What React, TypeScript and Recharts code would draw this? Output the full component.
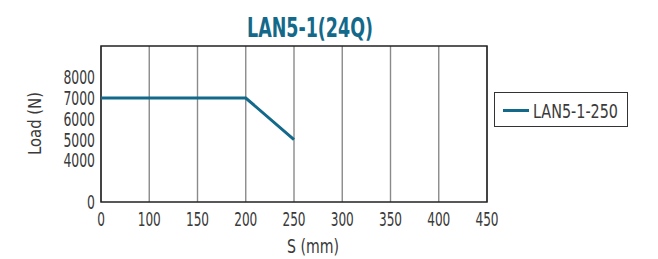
// LAN5-1(24Q) load vs stroke chart

import { LineChart, Line, XAxis, YAxis, CartesianGrid, Legend, ReferenceArea } from 'recharts'

const X_TICKS = [0, 100, 150, 200, 250, 300, 350, 400, 450]
const Y_TICKS = [0, 4000, 5000, 6000, 7000, 8000]
// axis slot of each y tick: the 0–4000 span is squeezed into two slots
const Y_TICK_SLOTS = [0, 2, 3, 4, 5, 6]
const Y_TOP_SLOT = 7.5

const SERIES_NAME = 'LAN5-1-250'
const STROKE_MM = [0, 200, 250]
const LOAD_N = [7000, 7000, 5000]

const FONT = "'Liberation Sans Narrow', 'DejaVu Sans Condensed', sans-serif"
const BLUE = '#13698a'
const INK = '#3a3a3a'

const X_SLOTS = X_TICKS.map((_, i) => i)

// piecewise-linear map from value to axis slot, defined by the tick table
function toSlot(v: number, ticks: number[], slots: number[]) {
  for (let i = 1; i < ticks.length; i++) {
    if (v <= ticks[i]) {
      const t = (v - ticks[i - 1]) / (ticks[i] - ticks[i - 1])
      return slots[i - 1] + t * (slots[i] - slots[i - 1])
    }
  }
  return slots[slots.length - 1]
}

const data = STROKE_MM.map((s, i) => ({
  x: toSlot(s, X_TICKS, X_SLOTS),
  y: toSlot(LOAD_N[i], Y_TICKS, Y_TICK_SLOTS),
}))

function XTick(props: any) {
  const { x, y, payload } = props
  const label = String(X_TICKS[payload.value] ?? '')
  return (
    <text x={x} y={y + 16} textAnchor="middle" fontSize={20} fontFamily={FONT} fill={INK}
          textLength={label.length * 7.7} lengthAdjust="spacingAndGlyphs">{label}</text>
  )
}

function YTick(props: any) {
  const { x, y, payload } = props
  const idx = Y_TICK_SLOTS.indexOf(payload.value)
  const label = String(Y_TICKS[idx] ?? '')
  return (
    <text x={x} y={y + 7} textAnchor="end" fontSize={20} fontFamily={FONT} fill={INK}
          textLength={label.length * 7.9} lengthAdjust="spacingAndGlyphs">{label}</text>
  )
}

function LegendBox() {
  return (
    <svg width={134} height={35} style={{ display: 'block' }}>
      <rect x={0.5} y={0.5} width={133} height={34} fill="#fff" stroke="#333" strokeWidth={1} />
      <line x1={9} x2={35} y1={18.5} y2={18.5} stroke={BLUE} strokeWidth={3} />
      <text x={39} y={26} fontSize={20} fontFamily={FONT} fill={INK}
            textLength={85} lengthAdjust="spacingAndGlyphs">{SERIES_NAME}</text>
    </svg>
  )
}

export default function App() {
  return (
    <div style={{ position: 'absolute', left: 0, top: 0, width: 658, height: 259, background: '#fff' }}>
      <LineChart width={658} height={259} data={data} margin={{ top: 46, right: 37, bottom: 27, left: 41 }}>
        <CartesianGrid vertical horizontal={false} stroke="#8a8a8a" strokeWidth={1.4} />
        <XAxis type="number" dataKey="x" domain={[0, X_TICKS.length - 1]} ticks={X_SLOTS}
               height={30} tickSize={0} tickMargin={8} axisLine={false} tick={<XTick />} interval={0} />
        <YAxis type="number" dataKey="y" domain={[0, Y_TOP_SLOT]} ticks={Y_TICK_SLOTS}
               width={60} tickSize={0} tickMargin={6} axisLine={false} tick={<YTick />} interval={0} />
        <ReferenceArea x1={0} x2={X_TICKS.length - 1} y1={0} y2={Y_TOP_SLOT} fill="none"
                       stroke="#222" strokeWidth={1.5} ifOverflow="visible" />
        <Line type="linear" dataKey="y" name={SERIES_NAME} stroke={BLUE} strokeWidth={3}
              dot={false} activeDot={false} isAnimationActive={false} />
        <Legend layout="vertical" align="right" verticalAlign="top" content={<LegendBox />}
                wrapperStyle={{ left: 494, top: 92, width: 134, height: 35 }} />
      </LineChart>
      <svg width={658} height={259} style={{ position: 'absolute', left: 0, top: 0, pointerEvents: 'none' }}>
        <text x={247} y={37} fontSize={26} fontWeight="bold" fontFamily={FONT} fill={BLUE}
              textLength={126} lengthAdjust="spacingAndGlyphs">LAN5-1(24Q)</text>
        <text x={287} y={253} fontSize={20} fontFamily={FONT} fill={INK}
              textLength={52} lengthAdjust="spacingAndGlyphs">S (mm)</text>
        <text transform="translate(41 123.5) rotate(-90)" textAnchor="middle" fontSize={17} fontFamily={FONT}
              fill={INK} textLength={63} lengthAdjust="spacingAndGlyphs">Load (N)</text>
      </svg>
    </div>
  )
}
